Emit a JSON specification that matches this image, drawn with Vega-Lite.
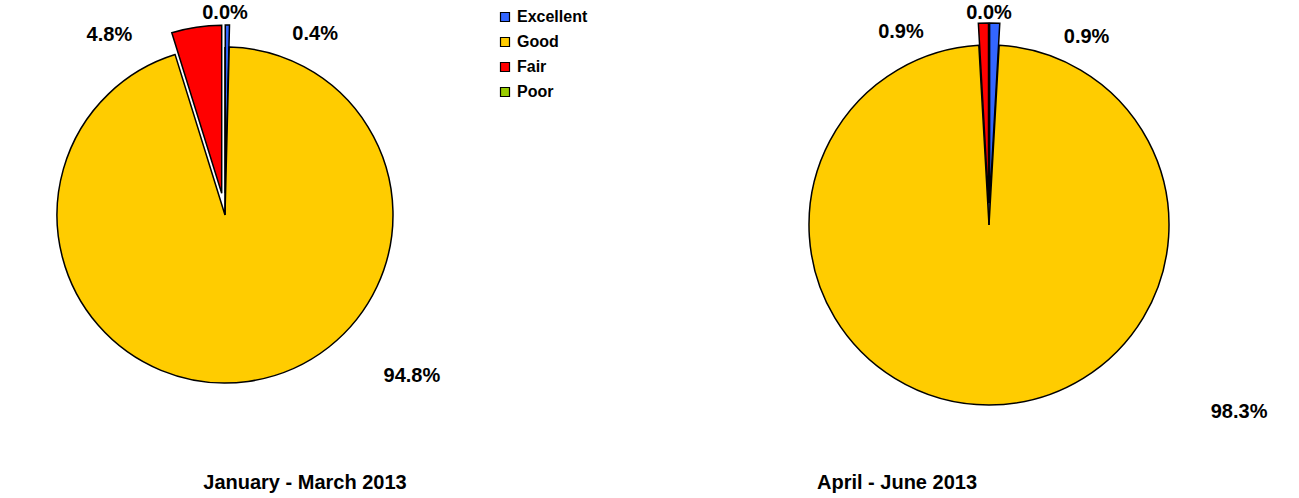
{
  "$schema": "https://vega.github.io/schema/vega-lite/v6.json",
  "padding": 0,
  "background": "white",
  "config": {"view": {"stroke": null}, "concat": {"spacing": 309}, "font": "Liberation Sans"},
  "data": {"values": [
    {"period": "January - March 2013", "category": "Excellent", "rank": 1, "share": 0.004},
    {"period": "January - March 2013", "category": "Good", "rank": 2, "share": 0.948},
    {"period": "January - March 2013", "category": "Fair", "rank": 3, "share": 0.048},
    {"period": "January - March 2013", "category": "Poor", "rank": 4, "share": 0.0},
    {"period": "April - June 2013", "category": "Excellent", "rank": 1, "share": 0.009},
    {"period": "April - June 2013", "category": "Good", "rank": 2, "share": 0.983},
    {"period": "April - June 2013", "category": "Fair", "rank": 3, "share": 0.009},
    {"period": "April - June 2013", "category": "Poor", "rank": 4, "share": 0.0}
  ]},
  "resolve": {"scale": {"theta": "independent", "color": "shared"}, "legend": {"color": "shared"}},
  "hconcat": [
    {
      "width": 450,
      "height": 430,
      "title": {"text": "January - March 2013", "orient": "bottom", "fontSize": 20, "fontWeight": "bold", "font": "Liberation Sans", "color": "black", "dx": 80, "offset": 43},
      "transform": [{"filter": "datum.period === 'January - March 2013'"}],
      "layer": [
        {
          "mark": {"type": "arc", "radius": 168, "stroke": "black", "strokeWidth": 1.5,
            "xOffset": {"expr": "(datum.category === 'Excellent' || datum.category === 'Fair') ? 22*sin(PI*(datum.share_start+datum.share_end)) : 0"},
            "yOffset": {"expr": "(datum.category === 'Excellent' || datum.category === 'Fair') ? -22*cos(PI*(datum.share_start+datum.share_end)) : 0"}},
          "encoding": {
            "theta": {"field": "share", "type": "quantitative", "stack": true},
            "order": {"field": "rank", "type": "quantitative"},
            "color": {"field": "category", "type": "nominal",
              "scale": {"domain": ["Excellent", "Good", "Fair", "Poor"], "range": ["#3366FF", "#FFCC00", "#FF0000", "#99CC00"]},
              "legend": {"title": null, "orient": "none", "legendX": 497, "legendY": 9, "symbolType": "square", "symbolSize": 81, "symbolStrokeColor": "black", "symbolStrokeWidth": 1.2, "labelFont": "Liberation Sans", "labelFontWeight": "bold", "labelFontSize": 16, "labelColor": "black", "rowPadding": 9, "labelOffset": 4}}
          }
        },
        {
          "mark": {"type": "text", "radius": 202, "fontSize": 20, "fontWeight": "bold", "font": "Liberation Sans", "color": "black",
            "thetaOffset": {"expr": "datum.category === 'Excellent' ? 0.45 : datum.category === 'Fair' ? -0.42 : datum.category === 'Good' ? -0.72 : 0"},
            "radiusOffset": {"expr": "datum.category === 'Good' ? 45 : datum.category === 'Fair' ? 12 : 0"}},
          "encoding": {
            "theta": {"field": "share", "type": "quantitative", "stack": true},
            "order": {"field": "rank", "type": "quantitative"},
            "detail": {"field": "category", "type": "nominal"},
            "text": {"field": "share", "type": "quantitative", "format": ".1%"}
          }
        }
      ]
    },
    {
      "width": 460,
      "height": 450,
      "title": {"text": "April - June 2013", "orient": "bottom", "fontSize": 20, "fontWeight": "bold", "font": "Liberation Sans", "color": "black", "dx": -92, "offset": 23},
      "transform": [{"filter": "datum.period === 'April - June 2013'"}],
      "layer": [
        {
          "mark": {"type": "arc", "radius": 180, "stroke": "black", "strokeWidth": 1.5,
            "xOffset": {"expr": "(datum.category === 'Excellent' || datum.category === 'Fair') ? 22*sin(PI*(datum.share_start+datum.share_end)) : 0"},
            "yOffset": {"expr": "(datum.category === 'Excellent' || datum.category === 'Fair') ? -22*cos(PI*(datum.share_start+datum.share_end)) : 0"}},
          "encoding": {
            "theta": {"field": "share", "type": "quantitative", "stack": true},
            "order": {"field": "rank", "type": "quantitative"},
            "color": {"field": "category", "type": "nominal",
              "scale": {"domain": ["Excellent", "Good", "Fair", "Poor"], "range": ["#3366FF", "#FFCC00", "#FF0000", "#99CC00"]}}
          }
        },
        {
          "mark": {"type": "text", "radius": 212, "fontSize": 20, "fontWeight": "bold", "font": "Liberation Sans", "color": "black",
            "thetaOffset": {"expr": "datum.category === 'Excellent' ? 0.45 : datum.category === 'Fair' ? -0.4 : datum.category === 'Good' ? -0.93 : 0"},
            "radiusOffset": {"expr": "datum.category === 'Good' ? 100 : 0"}},
          "encoding": {
            "theta": {"field": "share", "type": "quantitative", "stack": true},
            "order": {"field": "rank", "type": "quantitative"},
            "detail": {"field": "category", "type": "nominal"},
            "text": {"field": "share", "type": "quantitative", "format": ".1%"}
          }
        }
      ]
    }
  ]
}
